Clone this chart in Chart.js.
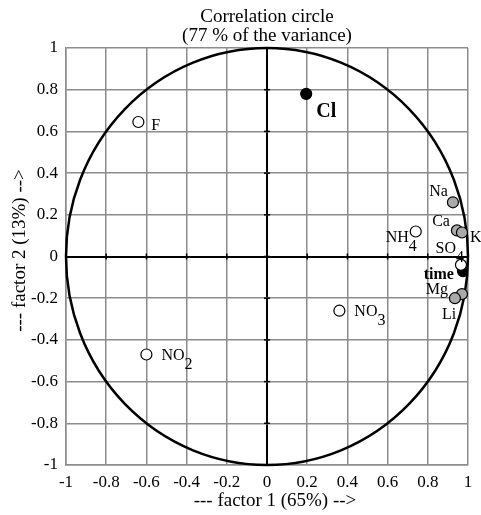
<!DOCTYPE html>
<html><head><meta charset="utf-8">
<script src="https://cdn.jsdelivr.net/npm/chart.js@4/dist/chart.umd.min.js"></script>
<style>html,body{margin:0;padding:0;background:#fff}#wrap{width:481px;height:515px}</style>
</head><body><div id="wrap"><canvas id="c" width="481" height="515"></canvas></div>
<script>
const names   = ['Cl','F','NO','NO','NH','Na','Ca','K','time','SO','Mg','Li'];
const subs    = ['','','2','3','4','','','','','4','',''];
const factor1 = [0.195,-0.64,-0.60,0.36,0.74,0.925,0.945,0.97,0.975,0.965,0.97,0.935];
const factor2 = [0.78,0.645,-0.47,-0.26,0.12,0.26,0.125,0.115,-0.07,-0.04,-0.18,-0.20];
const kinds   = ['black','open','open','open','open','gray','gray','gray','black','open','gray','gray'];
const tickVals = [-1,-0.8,-0.6,-0.4,-0.2,0,0.2,0.4,0.6,0.8,1];
const xTitle = '--- factor 1 (65%) -->';
const yTitle = '--- factor 2 (13%) -->';
const titleLines = ['Correlation circle','(77 % of the variance)'];
// label placement: [dx, dy, align, bold, size]
const labelPos = [
  [10,18,'left',true,20],[13,4,'left',false,16],[15,1,'left',false,16],[15,1,'left',false,16],
  [-7,6,'right',false,16],[-5,-10,'right',false,16],[-7,-9,'right',false,16],[8,5,'left',false,16],
  [-9,4,'right',true,16],[-5,-16,'right',false,16],[-14,-4,'right',false,16],[-13,17,'left',false,16]
];
const SERIF = '"Liberation Serif","Times New Roman",serif';
const fills = {black:'#000', open:'#fff', gray:'#aaaaaa'};

const circlePlugin = {
  id:'circ',
  beforeDatasetsDraw(chart){
    const {ctx, scales:{x,y}} = chart;
    const cx=x.getPixelForValue(0), cy=y.getPixelForValue(0);
    const rx=x.getPixelForValue(1)-cx, ry=cy-y.getPixelForValue(1);
    ctx.save();
    ctx.strokeStyle='#000'; ctx.lineWidth=1.5;
    tickVals.forEach(v=>{
      const px=x.getPixelForValue(v), py=y.getPixelForValue(v);
      ctx.beginPath(); ctx.moveTo(px,cy-3); ctx.lineTo(px,cy+3); ctx.stroke();
      ctx.beginPath(); ctx.moveTo(cx-3,py); ctx.lineTo(cx+3,py); ctx.stroke();
    });
    ctx.beginPath(); ctx.ellipse(cx,cy,rx,ry,0,0,Math.PI*2);
    ctx.lineWidth=2.5; ctx.strokeStyle='#000'; ctx.stroke();
    ctx.restore();
  },
  afterDatasetsDraw(chart){
    const {ctx, scales:{x,y}, chartArea} = chart;
    ctx.save();
    ctx.fillStyle='#000';
    ctx.textBaseline='middle';
    names.forEach((n,i)=>{
      const [dx,dy,al,bold,sz]=labelPos[i];
      const px=x.getPixelForValue(factor1[i])+dx, py=y.getPixelForValue(factor2[i])+dy;
      ctx.font=(bold?'bold ':'')+sz+'px '+SERIF;
      const w=ctx.measureText(n).width;
      let left = al==='left'?px:px-w;
      ctx.textAlign='left';
      ctx.fillText(n,left,py);
      if(subs[i]){ctx.font='16px '+SERIF; ctx.fillText(subs[i],left+w,py+9);}
    });
    const mid=(chartArea.left+chartArea.right)/2;
    ctx.textAlign='center';
    ctx.font='19px '+SERIF;
    ctx.fillText(titleLines[0],mid,17);
    ctx.fillText(titleLines[1],mid,36);
    ctx.fillText(xTitle,mid+8,501);
    ctx.translate(20,(chartArea.top+chartArea.bottom)/2-6);
    ctx.rotate(-Math.PI/2);
    ctx.fillText(yTitle,0,0);
    ctx.restore();
  }
};

new Chart(document.getElementById('c'),{
  type:'scatter',
  data:{datasets:[{
    data:factor1.map((v,i)=>({x:v,y:factor2[i]})),
    pointRadius:5.5, pointHoverRadius:5.5,
    pointBackgroundColor:kinds.map(k=>fills[k]),
    pointBorderColor:'#000', pointBorderWidth:1.2
  }]},
  options:{
    responsive:false, animation:false, events:[],
    layout:{padding:{top:48,right:13,left:0,bottom:0}},
    plugins:{legend:{display:false},tooltip:{enabled:false},title:{display:false}},
    scales:{
      x:{type:'linear',min:-1,max:1,
        afterBuildTicks(s){s.ticks=tickVals.map(v=>({value:v}));},
        afterFit(s){s.height=50;},
        ticks:{padding:7,color:'#000',font:{family:SERIF,size:17},maxRotation:0,autoSkip:false,callback:v=>String(v)},
        grid:{drawTicks:false,color:c=>c.tick&&c.tick.value===0?'#000':'#8c8c8c',lineWidth:c=>c.tick&&c.tick.value===0?2:1.5},
        border:{display:true,color:'#8c8c8c',width:1.5},
        title:{display:false}
      },
      y:{type:'linear',min:-1,max:1,
        afterBuildTicks(s){s.ticks=tickVals.map(v=>({value:v}));},
        afterFit(s){s.width=66;},
        ticks:{padding:8,color:'#000',font:{family:SERIF,size:17},autoSkip:false,callback:v=>String(v)},
        grid:{drawTicks:false,color:c=>c.tick&&c.tick.value===0?'#000':'#8c8c8c',lineWidth:c=>c.tick&&c.tick.value===0?2:1.5},
        border:{display:true,color:'#8c8c8c',width:1.5},
        title:{display:false}
      }
    }
  },
  plugins:[circlePlugin]
});
</script></body></html>
